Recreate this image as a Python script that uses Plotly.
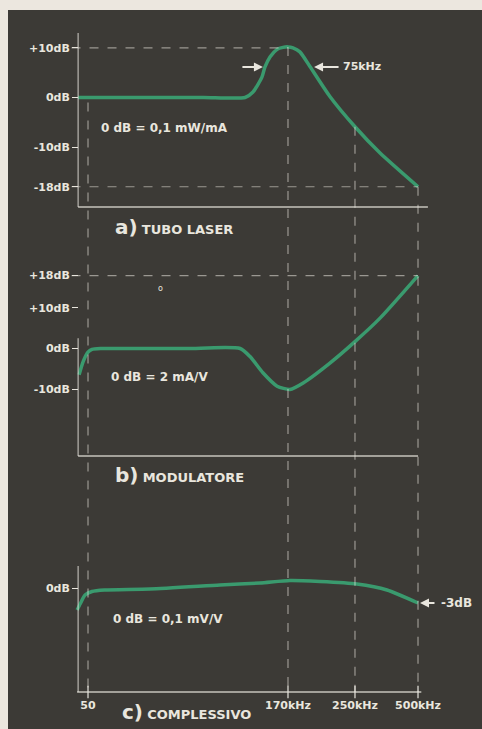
import plotly.graph_objects as go

# ---------------- data ----------------
x_ticks = [0, 60.6, 80.9, 100]
x_labels = ["50", "170kHz", "250kHz", "500kHz"]

laser_x = [-3.0, 15.0, 35.0, 47.6, 50.0, 52.7, 53.6, 55.2, 57.3, 59.1, 60.6, 62.1, 64.2, 67.3, 73.3, 80.9, 88.5, 100]
laser_db = [0, 0, 0, 0, 1.1, 4.1, 6.1, 8.2, 9.7, 10.1, 10.2, 10.0, 9.2, 6.2, 0.2, -5.9, -11.2, -18]
laser_ticks = [10, 0, -10, -18]
laser_ticklabels = ["+10dB", "0dB", "-10dB", "-18dB"]

mod_x = [-2.7, -1.5, 0, 1.2, 4.0, 15.0, 30.0, 46.1, 49.1, 53.0, 57.3, 61.2, 65.2, 73.3, 80.9, 88.5, 100]
mod_db = [-6.5, -3.3, -0.9, -0.2, 0, 0, 0, 0, -2.0, -6.0, -9.3, -10.1, -8.5, -3.6, 1.7, 7.5, 18]
mod_ticks = [18, 10, 0, -10]
mod_ticklabels = ["+18dB", "+10dB", "0dB", "-10dB"]

tot_x = [-3.3, -2.4, -0.9, 1.2, 5.0, 18.8, 40.0, 52.1, 61.2, 70.3, 81.5, 90.6, 100]
tot_db = [-4.4, -3.2, -1.4, -0.7, -0.4, -0.2, 0.6, 1.0, 1.5, 1.3, 0.8, -0.4, -3.0]
tot_ticks = [0]
tot_ticklabels = ["0dB"]

# ---------------- styling / layout ----------------
W, H = 482, 729
BG = "#3c3a36"
PAPER = "#ece7df"
GREEN = "#3a9a6e"
TXT = "#e9e6de"
LINE = "rgba(233,230,222,0.8)"
DASH = "rgba(233,230,222,0.55)"
FONT2 = "DejaVu Sans, Liberation Sans, sans-serif"

def px(x):
    return x / W

def py(y):
    return 1 - y / H

X_RANGE = [-26.67, 119.39]
X_AXIS0 = -3.0

dom_a = [py(207), py(33)]
rng_a = [-22.08, 13.0]
dom_b = [py(456), py(270)]
rng_b = [-26.54, 19.38]
dom_c = [py(692), py(566)]
rng_c = [-20.8, 4.4]

def to_paper(db, dom, rng):
    return dom[0] + (db - rng[0]) / (rng[1] - rng[0]) * (dom[1] - dom[0])

fig = go.Figure()
line_style = dict(color=GREEN, width=3.5, shape="spline", smoothing=0.6)
fig.add_trace(go.Scatter(x=laser_x, y=laser_db, mode="lines", line=line_style,
                         xaxis="x", yaxis="y", hoverinfo="skip"))
fig.add_trace(go.Scatter(x=mod_x, y=mod_db, mode="lines", line=line_style,
                         xaxis="x2", yaxis="y2", hoverinfo="skip"))
fig.add_trace(go.Scatter(x=tot_x, y=tot_db, mode="lines", line=line_style,
                         xaxis="x3", yaxis="y3", hoverinfo="skip"))

shapes = []
# dark board
shapes.append(dict(type="rect", xref="paper", yref="paper", x0=px(8), x1=1, y0=0, y1=py(10),
                   fillcolor=BG, line=dict(width=0), layer="below"))

# vertical dashed guide lines running through all panels
starts = [-1.0, max(laser_db), -5.9, -18]
bottom_paper = dom_c[0]
for xv, st in zip(x_ticks, starts):
    shapes.append(dict(type="line", xref="x", yref="paper", x0=xv, x1=xv,
                       y0=to_paper(st, dom_a, rng_a), y1=bottom_paper,
                       line=dict(color=DASH, width=1.2, dash="dash")))

# horizontal dashed reference lines
shapes.append(dict(type="line", xref="x", yref="y", x0=X_AXIS0 - 2, x1=x_ticks[1], y0=10, y1=10,
                   line=dict(color=DASH, width=1.2, dash="dash")))
shapes.append(dict(type="line", xref="x", yref="y", x0=X_AXIS0 - 2, x1=x_ticks[3], y0=-18, y1=-18,
                   line=dict(color=DASH, width=1.2, dash="dash")))
shapes.append(dict(type="line", xref="x2", yref="y2", x0=X_AXIS0 - 2, x1=x_ticks[3], y0=18, y1=18,
                   line=dict(color=DASH, width=1.2, dash="dash")))

# axis lines
shapes += [
    dict(type="line", xref="x", yref="y domain", x0=X_AXIS0, x1=X_AXIS0, y0=0, y1=1,
         line=dict(color=LINE, width=1.1)),
    dict(type="line", xref="x", yref="y domain", x0=X_AXIS0, x1=103, y0=0, y1=0,
         line=dict(color=LINE, width=1.5)),
    dict(type="line", xref="x2", yref="y2", x0=X_AXIS0, x1=X_AXIS0, y0=rng_b[0], y1=2.5,
         line=dict(color=LINE, width=1.1)),
    dict(type="line", xref="x2", yref="y2 domain", x0=X_AXIS0, x1=100, y0=0, y1=0,
         line=dict(color=LINE, width=1.5)),
    dict(type="line", xref="x3", yref="y3 domain", x0=X_AXIS0, x1=X_AXIS0, y0=0, y1=1,
         line=dict(color=LINE, width=1.1)),
    dict(type="line", xref="x3", yref="y3 domain", x0=X_AXIS0 - 0.3, x1=101, y0=0, y1=0,
         line=dict(color=LINE, width=1.5)),
]
# cross ticks on the bottom axis
for xv in x_ticks:
    shapes.append(dict(type="line", xref="x3", yref="y3 domain", x0=xv, x1=xv, y0=-0.05, y1=0.05,
                       line=dict(color=LINE, width=1.5)))

annotations = []
def txt(x, y, text, size=12, anchor="left", bold=True, family=FONT2):
    annotations.append(dict(xref="paper", yref="paper", x=px(x), y=py(y), text=(f"<b>{text}</b>" if bold else text),
                            showarrow=False, xanchor=anchor, yanchor="middle",
                            font=dict(size=size, color=TXT, family=family)))

txt(99, 128, "0 dB = 0,1 mW/mA", 12)
txt(109, 377, "0 dB = 2 mA/V", 12)
txt(111, 619, "0 dB = 0,1 mV/V", 12)
txt(341, 67, "75kHz", 11)
txt(439, 603, "-3dB", 12)
txt(160, 289, "o", 8, anchor="center", bold=False)

def panel_label(x, y, letter, name):
    annotations.append(dict(xref="paper", yref="paper", x=px(x), y=py(y), xanchor="left", yanchor="middle",
                            showarrow=False,
                            text=f"<b><span style='font-size:20px'>{letter}</span> "
                                 f"<span style='font-size:13px'>{name}</span></b>",
                            font=dict(color=TXT, family=FONT2)))

panel_label(113, 227, "a)", "TUBO LASER")
panel_label(113, 475, "b)", "MODULATORE")
panel_label(120, 712, "c)", "COMPLESSIVO")

# arrows
arrow = dict(showarrow=True, arrowhead=2, arrowsize=1, arrowwidth=1.8, arrowcolor=TXT, text="", axref="pixel", ayref="pixel")
annotations.append(dict(arrow, xref="x", yref="y", x=53.0, y=6.15, ax=-22, ay=0))
annotations.append(dict(arrow, xref="x", yref="y", x=68.5, y=6.15, ax=26, ay=0))
annotations.append(dict(arrow, xref="x3", yref="y3", x=100.6, y=-3.0, ax=16, ay=0))

def yax(dom, rng, vals, labels):
    return dict(domain=dom, range=rng, anchor="free", position=px(78),
                tickvals=vals, ticktext=[f"<b>{t}</b>" for t in labels],
                ticks="outside", ticklen=6, tickwidth=1.2, tickcolor=TXT,
                tickfont=dict(size=11, color=TXT, family=FONT2),
                showline=False, showgrid=False, zeroline=False, fixedrange=True)

def xax(anchor, visible=False):
    d = dict(domain=[0, 1], range=X_RANGE, anchor=anchor, showgrid=False, zeroline=False,
             showline=False, fixedrange=True)
    if visible:
        d.update(tickvals=x_ticks, ticktext=[f"<b>{t}</b>" for t in x_labels], ticks="",
                 ticklabelstandoff=5, tickfont=dict(size=11, color=TXT, family=FONT2))
    else:
        d.update(visible=False)
    return d

fig.update_layout(
    width=W, height=H,
    margin=dict(l=0, r=0, t=0, b=0),
    paper_bgcolor=PAPER, plot_bgcolor="rgba(0,0,0,0)",
    showlegend=False,
    xaxis=xax("y"), xaxis2=xax("y2"), xaxis3=xax("y3", True),
    yaxis=yax(dom_a, rng_a, laser_ticks, laser_ticklabels),
    yaxis2=yax(dom_b, rng_b, mod_ticks, mod_ticklabels),
    yaxis3=yax(dom_c, rng_c, tot_ticks, tot_ticklabels),
    shapes=shapes, annotations=annotations,
)

fig.write_html("out.html", config={"displayModeBar": False},
               post_script="document.body.style.margin='0';document.body.style.overflow='hidden';")
